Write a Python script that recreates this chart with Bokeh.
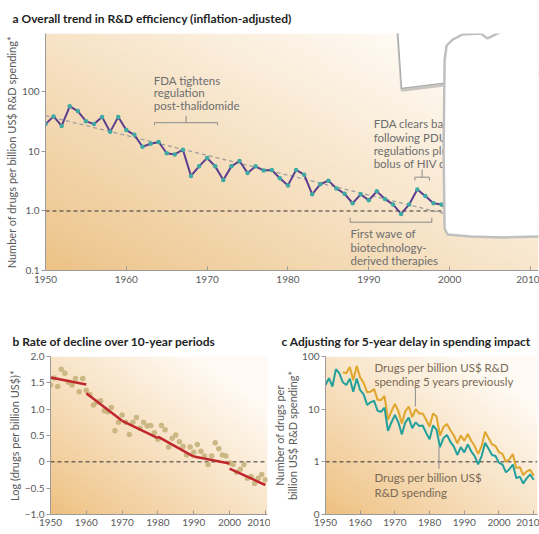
import numpy as np
from bokeh.plotting import figure
from bokeh.layouts import column, row
from bokeh.models import FixedTicker, Range1d, Span
from bokeh.embed import file_html
from bokeh.resources import INLINE
from bokeh.core.properties import value

FONT = "Lato"

# ---------------- data ----------------
years = list(range(1950, 2011))
log_drugs_per_bn = [1.46, 1.59, 1.43, 1.76, 1.68, 1.51, 1.46, 1.58, 1.33, 1.58,
                    1.36, 1.28, 1.08, 1.13, 1.16, 0.97, 0.95, 1.03, 0.59, 0.75,
                    0.89, 0.75, 0.52, 0.75, 0.84, 0.64, 0.75, 0.68, 0.69, 0.55,
                    0.43, 0.69, 0.61, 0.28, 0.45, 0.51, 0.38, 0.29, 0.13, 0.28,
                    0.18, 0.33, 0.20, 0.11, -0.05, 0.11, 0.36, 0.25, 0.13, 0.11,
                    -0.02, -0.05, -0.20, -0.14, -0.05, -0.31, -0.28, -0.41, -0.31, -0.24,
                    -0.34]
drugs_per_bn = [10 ** v for v in log_drugs_per_bn]

lag_years = list(range(1955, 2011))
log_drugs_per_bn_lag5 = [1.70, 1.68, 1.80, 1.55, 1.82,
                         1.60, 1.50, 1.32, 1.33, 1.38, 1.18, 1.17, 1.25, 0.80, 0.96,
                         1.10, 0.96, 0.73, 0.96, 1.05, 0.85, 1.00, 0.92, 0.92, 0.80,
                         0.67, 0.92, 0.86, 0.50, 0.66, 0.72, 0.60, 0.50, 0.35, 0.50,
                         0.40, 0.53, 0.40, 0.30, 0.15, 0.30, 0.57, 0.45, 0.33, 0.30,
                         0.18, 0.15, 0.00, 0.05, 0.15, -0.12, -0.10, -0.25, -0.18, -0.15,
                         -0.26]
drugs_per_bn_lag5 = [10 ** v for v in log_drugs_per_bn_lag5]

trend_years = [1950, 2010]
trend_vals = [40.0, 0.40]

decade_fit_years = [[1950, 1960], [1960, 1970], [1970, 1980],
                    [1980, 1990], [1990, 2000], [2000, 2010]]
decade_fit_vals = [[1.60, 1.47], [1.30, 0.78], [0.78, 0.45],
                   [0.48, 0.10], [0.10, -0.03], [-0.13, -0.44]]

year_ticks = [1950, 1960, 1970, 1980, 1990, 2000, 2010]
log_ticks_a = [0.1, 1, 10, 100]
log_labels_a = {0.1: "0.1", 1: "1.0", 10: "10", 100: "100"}
b_ticks = [-1, -0.5, 0, 0.5, 1, 1.5, 2]
b_labels = {-1: "\u22121.0", -0.5: "\u22120.5", 0: "0", 0.5: "0.5", 1: "1.0", 1.5: "1.5", 2: "2.0"}
c_ticks = [0.1, 1, 10, 100]
c_labels = {0.1: "0", 1: "1", 10: "10", 100: "100"}

# annotations (panel a)
note_thal = ["FDA tightens", "regulation", "post-thalidomide"]
note_thal_x = [1963.4, 1963.4, 1963.4]
note_thal_y = [156, 98, 59]
brk_thal_xs = [[1963.5, 1963.5, 1971.3, 1971.3], [1967.4, 1967.4]]
brk_thal_ys = [[27.5, 30.5, 30.5, 27.5], [30.5, 40.0]]

note_pdufa = ["FDA clears backlog", "following PDUFA", "regulations plus", "bolus of HIV drugs"]
note_pdufa_x = [1990.6] * 4
note_pdufa_y = [29.5, 17.2, 10.4, 6.3]
brk_pdufa_xs = [[1995.7, 1995.7, 1997.5, 1997.5], [1996.6, 1996.6]]
brk_pdufa_ys = [[3.26, 3.7, 3.7, 3.26], [3.7, 5.0]]

note_bio = ["First wave of", "biotechnology-", "derived therapies"]
note_bio_x = [1987.75] * 3
note_bio_y = [0.419, 0.244, 0.148]
brk_bio_xs = [[1987.7, 1987.7, 1997.8, 1997.8]]
brk_bio_ys = [[0.77, 0.648, 0.648, 0.77]]

# annotations (panel c)
note_lag = ["Drugs per billion US$ R&D", "spending 5 years previously"]
note_lag_x = [1964.1, 1964.1]
note_lag_y = [63, 34]
ptr_lag_x = [1975.9, 1975.9]
ptr_lag_y = [26, 11.3]
note_now = ["Drugs per billion US$", "R&D spending"]
note_now_x = [1964.1, 1964.1]
note_now_y = [0.50, 0.257]
ptr_now_x = [1982.7, 1982.7]
ptr_now_y = [1.95, 0.74]

# paper scraps lying over the top-right of panel a
paper_x = [1993.5, 1994.06, 2011.14, 2013.7, 2013.7]
paper_y = [1585, 114.6, 221, 245, 1585]
paper_shadow_x = [1993.6, 1994.1, 2011.14]
paper_shadow_y = [1000, 107, 206]
blob_x = [1999.63, 1999.38, 1999.26, 1999.38, 1999.75, 2002.6, 2006.68, 2011.14, 2013.74,
          2013.74, 2006.68, 2004.7, 2003.84, 2001.6, 2000.37]
blob_y = [604, 338, 10.4, 0.508, 0.403, 0.372, 0.359, 0.372, 0.372,
          1585, 1081, 794, 962, 925, 762]

# ---------------- styling helpers ----------------
AX = "#9a9a9a"
LBL = "#5a5a5a"


def gradient(nx, ny, dark, light, wx, wy, gamma):
    X, Y = np.meshgrid(np.linspace(0, 1, nx), np.linspace(0, 1, ny))
    t = np.clip(wx * X + wy * Y, 0, 1) ** gamma
    img = np.empty((ny, nx), dtype=np.uint32)
    v = img.view(dtype=np.uint8).reshape((ny, nx, 4))
    for k in range(3):
        v[:, :, k] = (dark[k] + (light[k] - dark[k]) * t).astype(np.uint8)
    v[:, :, 3] = 255
    return img


def make_fig(width, height, x_end, y0, y1, y_type, bl, br, bt, bb, title, title_offset,
             title_size, title_standoff):
    p = figure(width=width, height=height, x_range=Range1d(1950, x_end),
               y_range=Range1d(y0, y1), y_axis_type=y_type,
               output_backend="svg", toolbar_location=None,
               min_border_left=bl, min_border_right=br, min_border_top=bt, min_border_bottom=bb,
               title=title)
    p.outline_line_color = None
    p.grid.visible = False
    p.background_fill_color = "white"
    p.border_fill_color = "white"
    p.title.text_font = FONT
    p.title.text_font_size = title_size
    p.title.text_font_style = "bold"
    p.title.text_color = "#1e1e1e"
    p.title.align = "left"
    p.title.offset = title_offset
    p.title.standoff = title_standoff
    xa = p.xaxis[0]
    xa.ticker = FixedTicker(ticks=year_ticks)
    xa.major_tick_in = 4
    xa.major_tick_out = 0
    xa.minor_tick_line_color = None
    ya = p.yaxis[0]
    ya.major_tick_in = 0
    ya.major_tick_out = 4
    ya.minor_tick_line_color = None
    for ax in (xa, ya):
        ax.axis_line_color = AX
        ax.major_tick_line_color = AX
        ax.major_label_text_font = FONT
        ax.major_label_text_font_size = "10px"
        ax.major_label_text_color = LBL
        ax.axis_label_text_font = FONT
        ax.axis_label_text_font_size = "11px"
        ax.axis_label_text_font_style = "normal"
        ax.axis_label_text_color = LBL
    ya.major_label_standoff = 2
    ya.axis_label_standoff = 1
    return p


def add_text(p, xs, ys, lines, color, size="11.5px"):
    p.text(x=xs, y=ys, text=lines, text_font=value(FONT), text_font_size=size,
           text_color=color, text_baseline="middle", text_align="left")


# ---------------- panel a ----------------
A_TOP = 10 ** 2.983
pa = make_fig(539, 300, 2011.0, 0.1, A_TOP, "log", 45, 1, 33, 30,
              "a  Overall trend in R&D efficiency (inflation-adjusted)", -33, "12px", 16)
pa.xaxis[0].major_label_standoff = 5
pa.yaxis[0].ticker = FixedTicker(ticks=log_ticks_a)
pa.yaxis[0].major_label_overrides = log_labels_a
pa.yaxis[0].axis_label = "Number of drugs per billion US$ R&D spending*"
pa.image_rgba(image=[gradient(160, 80, (236, 194, 134), (255, 251, 245), 0.62, 0.55, 0.9)],
              x=1950, y=0.1, dw=61.0, dh=A_TOP - 0.1, level="image")
pa.add_layout(Span(location=1, dimension="width", line_dash="4 3", line_color="#333333",
                   line_width=1, level="underlay"))
pa.line(trend_years, trend_vals, line_color="#a0a0a0", line_dash="4 3", line_width=1.3)
pa.line(years, drugs_per_bn, line_color="#5c3f8f", line_width=2)
pa.scatter(years, drugs_per_bn, size=4.5, fill_color="#3fa9a3", line_color=None)
add_text(pa, note_thal_x, note_thal_y, note_thal, "#6e6e6e")
add_text(pa, note_pdufa_x, note_pdufa_y, note_pdufa, "#6e6e6e")
add_text(pa, note_bio_x, note_bio_y, note_bio, "#6e6e6e")
for xs, ys in ((brk_thal_xs, brk_thal_ys), (brk_pdufa_xs, brk_pdufa_ys), (brk_bio_xs, brk_bio_ys)):
    pa.multi_line(xs=xs, ys=ys, line_color="#8a8a8a", line_width=1)
# paper scraps on top
pa.line(paper_shadow_x, paper_shadow_y, line_color="#9e9e9e", line_width=3, line_alpha=0.55)
pa.patch(paper_x, paper_y, fill_color="#ffffff", line_color="#aaaaaa", line_width=1.2)
pa.patch(blob_x, blob_y, fill_color="#ffffff", line_color="#c0c0c0", line_width=2.5)

# ---------------- panel b ----------------
pb = make_fig(270, 234, 2010.6, -1.0, 2.0, "linear", 50, 3, 56, 20,
              "b  Rate of decline over 10-year periods", -38, "12px", 16)
pb.xaxis[0].major_label_standoff = 4
pb.yaxis[0].ticker = FixedTicker(ticks=b_ticks)
pb.yaxis[0].major_label_overrides = b_labels
pb.yaxis[0].axis_label = "Log (drugs per billion US$)*"
pb.image_rgba(image=[gradient(100, 80, (238, 192, 128), (255, 250, 243), 0.6, 0.6, 0.9)],
              x=1950, y=-1.0, dw=60.6, dh=3.0, level="image")
pb.add_layout(Span(location=0, dimension="width", line_dash="4 3", line_color="#333333",
                   line_width=1, level="underlay"))
pb.scatter(years, log_drugs_per_bn, size=5.5, fill_color="#c6b27c", line_color=None, fill_alpha=0.9)
pb.multi_line(xs=decade_fit_years, ys=decade_fit_vals, line_color="#c0272d", line_width=2.5)

# ---------------- panel c ----------------
pc = make_fig(269, 234, 2011.1, 0.1, 100, "log", 50, 2, 56, 20,
              "c  Adjusting for 5-year delay in spending impact", -44, "12px", 16)
pc.xaxis[0].major_label_standoff = 4
pc.yaxis[0].ticker = FixedTicker(ticks=c_ticks)
pc.yaxis[0].major_label_overrides = c_labels
pc.yaxis[0].axis_label = "Number of drugs per\nbillion US$ R&D spending*"
pc.yaxis[0].axis_label_text_line_height = 1.0
pc.yaxis[0].axis_label_standoff = 0
pc.image_rgba(image=[gradient(100, 80, (238, 192, 128), (255, 250, 243), 0.6, 0.6, 0.9)],
              x=1950, y=0.1, dw=61.1, dh=99.9, level="image")
pc.add_layout(Span(location=1, dimension="width", line_dash="4 3", line_color="#333333",
                   line_width=1, level="underlay"))
pc.line(lag_years, drugs_per_bn_lag5, line_color="#e0a52c", line_width=2)
pc.line(years, drugs_per_bn, line_color="#23a09b", line_width=2)
pc.line(ptr_lag_x, ptr_lag_y, line_color="#8a8a8a", line_width=1)
pc.line(ptr_now_x, ptr_now_y, line_color="#8a8a8a", line_width=1)
add_text(pc, note_lag_x, note_lag_y, note_lag, "#7a6a55")
add_text(pc, note_now_x, note_now_y, note_now, "#7a6a55")

layout = column(pa, row(pb, pc))
open("out.html", "w").write(file_html(layout, INLINE))
